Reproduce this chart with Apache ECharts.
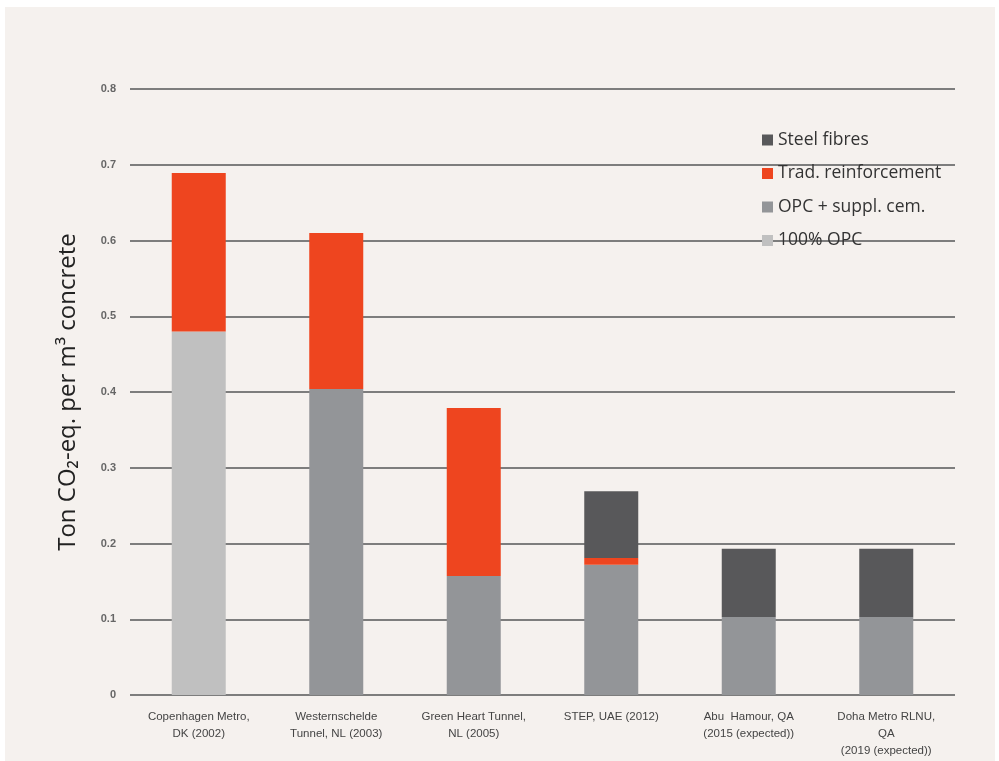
<!DOCTYPE html>
<html>
<head>
<meta charset="utf-8">
<script src="https://cdn.jsdelivr.net/npm/echarts@6/dist/echarts.min.js"></script>
<style>
  html, body { margin: 0; padding: 0; background: #fff; }
  #chart { width: 999px; height: 761px; }
</style>
</head>
<body>
<div id="chart"></div>
<script>
// 数据
var categories = [
    'Copenhagen Metro,\nDK (2002)',
    'Westernschelde\nTunnel, NL (2003)',
    'Green Heart Tunnel,\nNL (2005)',
    'STEP, UAE (2012)',
    'Abu  Hamour, QA\n(2015 (expected))',
    'Doha Metro RLNU,\nQA\n(2019 (expected))'
];
var opc100 = [0.48, 0, 0, 0, 0, 0];
var opcSuppl = [0, 0.404, 0.157, 0.172, 0.103, 0.103];
var tradReinf = [0.209, 0.206, 0.222, 0.009, 0, 0];
var steelFibres = [0, 0, 0, 0.088, 0.09, 0.09];
var yTicks = [0, 0.1, 0.2, 0.3, 0.4, 0.5, 0.6, 0.7, 0.8];

var chart = echarts.init(document.getElementById('chart'));

function barSeries(name, data, color) {
    return {
        name: name,
        type: 'bar',
        stack: 'total',
        data: data,
        barWidth: 54,
        itemStyle: { color: color },
        emphasis: { disabled: true }
    };
}

var option = {
    backgroundColor: '#ffffff',
    animation: false,
    graphic: [{
        type: 'rect',
        z: -10,
        shape: { x: 5, y: 7, width: 990, height: 754 },
        style: { fill: '#f5f1ee' }
    }],
    grid: { left: 130, right: 44, top: 89, bottom: 66 },
    legend: {
        orient: 'vertical',
        left: 757,
        top: 126,
        icon: 'rect',
        itemWidth: 11,
        itemHeight: 11,
        itemGap: 15.5,
        textStyle: { fontSize: 17.5, color: '#333', fontFamily: 'Open Sans' },
        data: ['Steel fibres', 'Trad. reinforcement', 'OPC + suppl. cem.', '100% OPC']
    },
    xAxis: {
        type: 'category',
        data: categories,
        axisLine: { show: false },
        axisTick: { show: false },
        axisLabel: {
            fontSize: 11.5,
            color: '#444',
            lineHeight: 17,
            margin: 13,
            verticalAlign: 'top',
            fontFamily: 'Liberation Sans'
        }
    },
    yAxis: {
        type: 'value',
        min: 0,
        max: yTicks[yTicks.length - 1],
        interval: 0.1,
        name: 'Ton CO₂-eq. per m³ concrete',
        nameLocation: 'middle',
        nameGap: 50,
        nameTextStyle: { fontSize: 24, color: '#222', fontFamily: 'Open Sans' },
        axisLine: { show: false },
        axisTick: { show: false },
        axisLabel: {
            fontSize: 11,
            fontWeight: 'bold',
            color: '#666',
            margin: 14,
            formatter: function (v) { return v === 0 ? '0' : v.toFixed(1); }
        },
        splitLine: { lineStyle: { color: '#7d7d7d', width: 2 } }
    },
    series: [
        barSeries('100% OPC', opc100, '#c0c0c0'),
        barSeries('OPC + suppl. cem.', opcSuppl, '#939598'),
        barSeries('Trad. reinforcement', tradReinf, '#ee451f'),
        barSeries('Steel fibres', steelFibres, '#58585a')
    ]
};

chart.setOption(option);
</script>
</body>
</html>
